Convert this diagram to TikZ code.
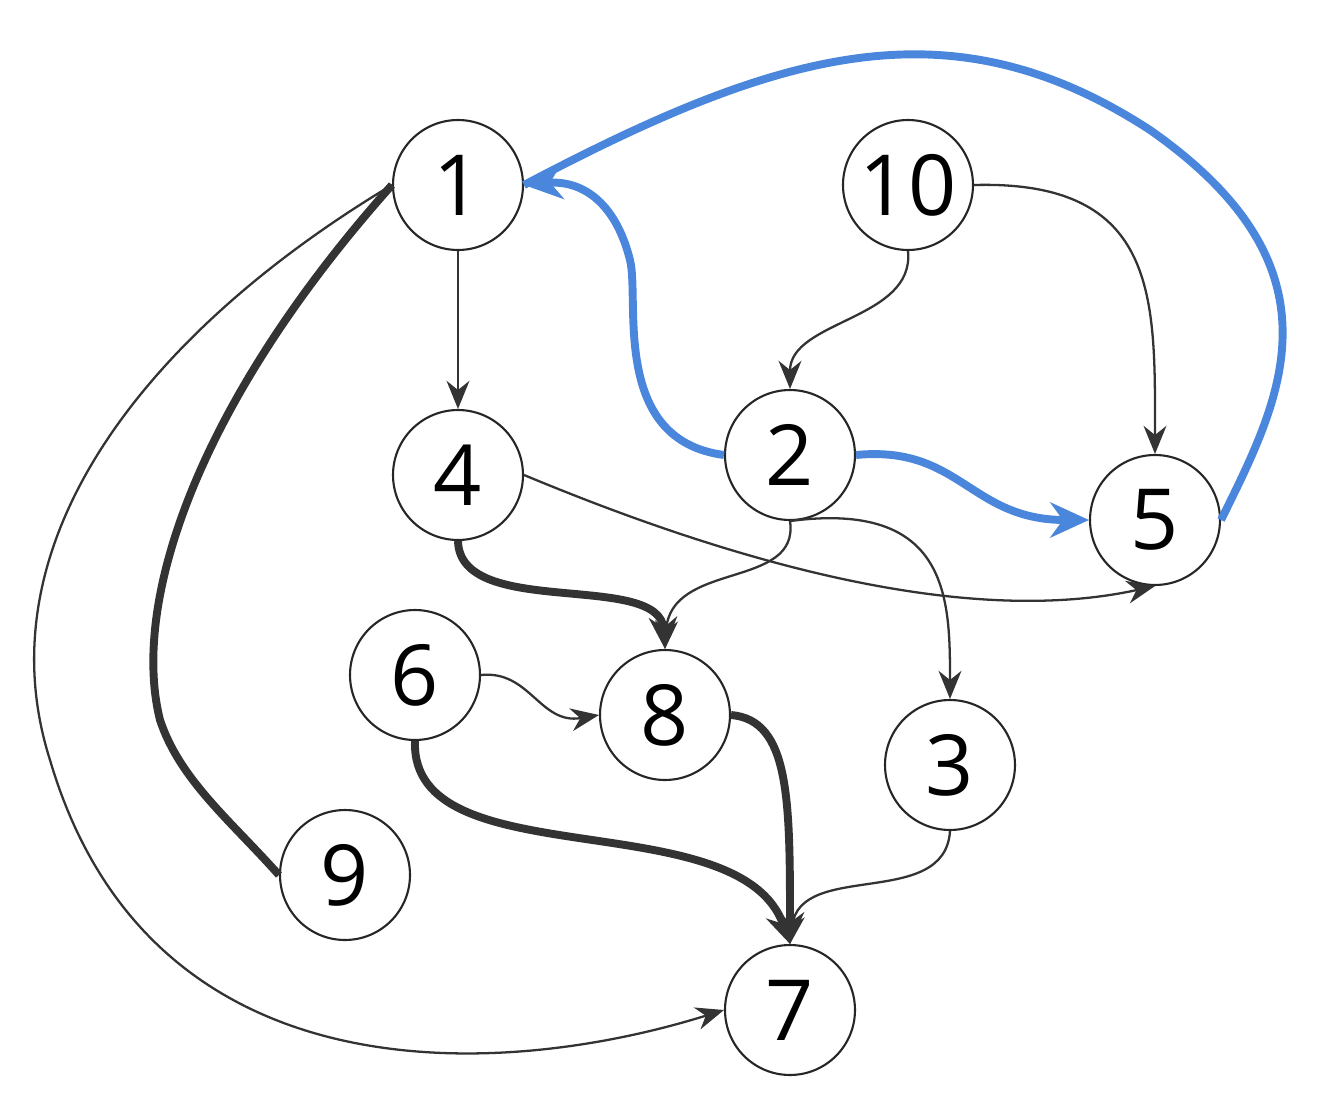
\documentclass[tikz,border=0pt]{standalone}
\usepackage{fontspec}
\setmainfont{Open Sans}
\usetikzlibrary{arrows.meta}
\begin{document}
\begin{tikzpicture}[x=0.02cm,y=-0.02cm,
  v/.style={circle,draw=black!85,line width=1.2pt,minimum size=2.6cm,inner sep=0pt,font=\fontsize{48}{48}\selectfont},
  thin/.style={draw=black!80,line width=1.3pt,-{Stealth[length=16pt,width=13pt]}},
  thick/.style={draw=black!80,line width=4.5pt},
  blue/.style={color={rgb,255:red,74;green,134;blue,220},line width=4.5pt}]
\useasboundingbox (0,0) rectangle (1323,1099);
\node[v] (n1) at (458,185) {1};
\node[v] (n10) at (908,185) {10};
\node[v] (n4) at (458,475) {4};
\node[v] (n2) at (790,455) {2};
\node[v] (n5) at (1155,520) {5};
\node[v] (n6) at (415,675) {6};
\node[v] (n8) at (665,715) {8};
\node[v] (n3) at (950,765) {3};
\node[v] (n9) at (345,875) {9};
\node[v] (n7) at (790,1010) {7};
\draw[thin] (n1) -- (n4);
\draw[thin] (n10.south) .. controls (915,320) and (790,320) .. (n2.north);
\draw[thin] (n10.east) .. controls (1160,180) and (1155,300) .. (n5.north);
\draw[thin] (n4.east) .. controls (800,590) and (1000,620) .. (n5.south);
\draw[thin] (n2.south) .. controls (800,590) and (670,560) .. (n8.north);
\draw[thin] (n2.south) .. controls (950,500) and (950,600) .. (n3.north);
\draw[thin] (n6.east) .. controls (530,670) and (540,725) .. (n8.west);
\draw[thin] (n3.south) .. controls (945,910) and (800,860) .. (n7.north);
\draw[thin] (n1.west) .. controls (150,330) and (-20,540) .. (50,760) .. controls (150,1100) and (500,1080) .. (n7.west);
\draw[thick] (n1.west) .. controls (200,400) and (130,600) .. (160,720) .. controls (180,780) and (230,820) .. (n9.west);
\draw[thick,-{Stealth[length=18pt,width=16pt]}] (n4.south) .. controls (460,620) and (660,570) .. (n8.north);
\draw[thick,-{Stealth[length=18pt,width=16pt]}] (n6.south) .. controls (410,880) and (740,800) .. (n7.north);
\draw[thick,-{Stealth[length=18pt,width=16pt]}] (n8.east) .. controls (790,720) and (790,800) .. (n7.north);
\draw[blue,-{Stealth[length=22pt,width=20pt]}] (n2.west) .. controls (610,440) and (640,300) .. (630,260) .. controls (615,200) and (580,180) .. (n1.east);
\draw[blue,-{Stealth[length=22pt,width=20pt]}] (n2.east) .. controls (960,445) and (970,520) .. (n5.west);
\draw[blue] (n5.east) .. controls (1280,400) and (1350,270) .. (1150,130) .. controls (950,0) and (780,50) .. (n1.east);
\end{tikzpicture}
\end{document}
